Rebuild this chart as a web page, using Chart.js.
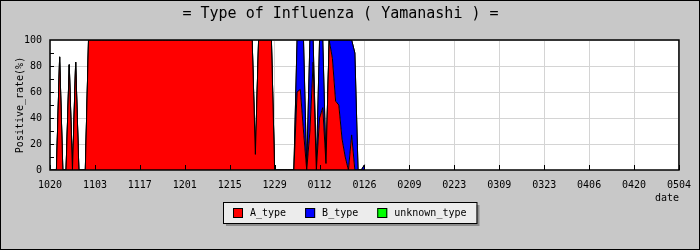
<!DOCTYPE html>
<html>
<head>
<meta charset="utf-8">
<script src="https://cdn.jsdelivr.net/npm/chart.js@4/dist/chart.umd.min.js"></script>
<style>
  html, body { margin: 0; padding: 0; background: #c8c8c8; }
  canvas { display: block; }
</style>
</head>
<body>
<canvas id="chart" width="700" height="250"></canvas>
<script>
// x axis: days since 10/20, one label every 14 days
const tickLabels = ["1020", "1103", "1117", "1201", "1215", "1229", "0112", "0126",
  "0209", "0223", "0309", "0323", "0406", "0420", "0504"];
const seriesNames = ["A_type", "B_type", "unknown_type"];
const seriesColors = ["#ff0000", "#0000ff", "#00ff00"];

// daily positive rate (%), index = day from 10/20 (rows of 14 days)
const aType = [
  0, 0, 0, 87, 0, 0, 81, 0, 83, 0, 0, 0, 100, 100,
  100, 100, 100, 100, 100, 100, 100, 100, 100, 100, 100, 100, 100, 100,
  100, 100, 100, 100, 100, 100, 100, 100, 100, 100, 100, 100, 100, 100,
  100, 100, 100, 100, 100, 100, 100, 100, 100, 100, 100, 100, 100, 100,
  100, 100, 100, 100, 100, 100, 100, 100, 12, 100, 100, 100, 100, 100,
  0, 0, 0, 0, 0, 0, 0, 60, 62, 30, 0, 30, 83, 0,
  40, 48, 5, 100, 86, 53, 50, 24, 10, 0, 27, 0, 0, 0,
  0
];
const bType = [
  0, 0, 0, 0, 0, 0, 0, 0, 0, 0, 0, 0, 0, 0,
  0, 0, 0, 0, 0, 0, 0, 0, 0, 0, 0, 0, 0, 0,
  0, 0, 0, 0, 0, 0, 0, 0, 0, 0, 0, 0, 0, 0,
  0, 0, 0, 0, 0, 0, 0, 0, 0, 0, 0, 0, 0, 0,
  0, 0, 0, 0, 0, 0, 0, 0, 0, 0, 0, 0, 0, 0,
  0, 0, 0, 0, 0, 0, 0, 40, 38, 70, 0, 70, 17, 0,
  60, 52, 0, 0, 14, 47, 50, 76, 90, 100, 73, 90, 0, 0,
  4
];
const unknownType = [
  0, 0, 0, 0, 0, 0, 0, 0, 0, 0, 0, 0, 0, 0,
  0, 0, 0, 0, 0, 0, 0, 0, 0, 0, 0, 0, 0, 0,
  0, 0, 0, 0, 0, 0, 0, 0, 0, 0, 0, 0, 0, 0,
  0, 0, 0, 0, 0, 0, 0, 0, 0, 0, 0, 0, 0, 0,
  0, 0, 0, 0, 0, 0, 0, 0, 0, 0, 0, 0, 0, 0,
  0, 0, 0, 0, 0, 0, 0, 0, 0, 0, 0, 0, 0, 0,
  0, 0, 0, 0, 0, 0, 0, 0, 0, 0, 0, 0, 0, 0,
  0
];

const MONO = "'DejaVu Sans Mono', monospace";

function toPoints(values) {
  return values.map((v, i) => ({x: i, y: v}));
}

// gray background, white plot area, frame and inner tick marks
const frame = {
  id: "frame",
  beforeDraw(chart) {
    const {ctx, chartArea: a} = chart;
    ctx.save();
    ctx.fillStyle = "#c8c8c8";
    ctx.fillRect(0, 0, chart.width, chart.height);
    ctx.strokeStyle = "#000";
    ctx.lineWidth = 1;
    ctx.strokeRect(0.5, 0.5, chart.width - 1, chart.height - 1);
    ctx.fillStyle = "#fff";
    ctx.fillRect(a.left, a.top, a.right - a.left, a.bottom - a.top);
    ctx.restore();
  },
  afterDatasetsDraw(chart) {
    const {ctx, chartArea: a, scales} = chart;
    ctx.save();
    ctx.strokeStyle = "#000";
    ctx.lineWidth = 1;
    ctx.beginPath();
    for (let v = 10; v < 100; v += 10) {
      const py = Math.round(scales.y.getPixelForValue(v)) + 0.5;
      ctx.moveTo(a.left, py);
      ctx.lineTo(a.left + 4, py);
    }
    scales.x.ticks.forEach((t) => {
      const px = Math.round(scales.x.getPixelForValue(t.value)) + 0.5;
      ctx.moveTo(px, a.bottom);
      ctx.lineTo(px, a.bottom - 5);
    });
    ctx.stroke();
    ctx.lineWidth = 1.5;
    ctx.strokeRect(a.left, a.top, a.right - a.left, a.bottom - a.top);
    ctx.restore();
  }
};

// boxed legend under the x axis
const boxLegend = {
  id: "boxLegend",
  afterDraw(chart) {
    const {ctx} = chart;
    ctx.save();
    ctx.font = "10px " + MONO;
    const pad = 10, sw = 10, gap = 7, between = 19;
    const names = chart.data.datasets.map((d) => d.label);
    const widths = names.map((n) => ctx.measureText(n).width);
    let total = pad * 2;
    widths.forEach((w, i) => { total += sw + gap + w + (i < widths.length - 1 ? between : 0); });
    const h = 21;
    const left = Math.round((chart.width - total) / 2);
    const top = 202;
    ctx.fillStyle = "#8c8c8c";
    ctx.fillRect(left + 3, top + 3, total, h);
    ctx.fillStyle = "#ececec";
    ctx.fillRect(left, top, total, h);
    ctx.strokeStyle = "#000";
    ctx.lineWidth = 1;
    ctx.strokeRect(left + 0.5, top + 0.5, total, h);
    let x = left + pad;
    const cy = top + h / 2 + 0.5;
    ctx.textBaseline = "middle";
    chart.data.datasets.forEach((d, i) => {
      ctx.fillStyle = d.backgroundColor;
      ctx.fillRect(x, cy - 5, sw, sw);
      ctx.strokeRect(x + 0.5, cy - 5 + 0.5, sw - 1, sw - 1);
      ctx.fillStyle = "#000";
      ctx.fillText(names[i], x + sw + gap, cy);
      x += sw + gap + widths[i] + between;
    });
    ctx.restore();
  }
};

const ctx = document.getElementById("chart").getContext("2d");
new Chart(ctx, {
  type: "line",
  data: {
    datasets: [
      {label: seriesNames[0], data: toPoints(aType), backgroundColor: seriesColors[0], fill: "origin"},
      {label: seriesNames[1], data: toPoints(bType), backgroundColor: seriesColors[1], fill: "-1"},
      {label: seriesNames[2], data: toPoints(unknownType), backgroundColor: seriesColors[2], fill: "-1"}
    ]
  },
  options: {
    responsive: false,
    animation: false,
    events: [],
    layout: {padding: {left: 0, right: 19, top: 0, bottom: 46}},
    elements: {
      line: {borderColor: "#000", borderWidth: 1, tension: 0},
      point: {radius: 0}
    },
    scales: {
      x: {
        type: "linear",
        min: 0,
        max: 196,
        afterFit: (s) => { s.height = 34; },
        border: {display: false},
        grid: {color: "#d4d4d4", drawTicks: false},
        ticks: {
          stepSize: 14,
          autoSkip: false,
          maxRotation: 0,
          padding: 9,
          color: "#000",
          font: {family: MONO, size: 10},
          callback: (v) => tickLabels[v / 14] ?? ""
        },
        title: {
          display: true,
          text: "date",
          align: "end",
          color: "#000",
          font: {family: MONO, size: 10},
          padding: {top: 0, bottom: 0}
        }
      },
      y: {
        stacked: true,
        min: 0,
        max: 100,
        afterFit: (s) => { s.width = 50; },
        border: {display: false},
        grid: {color: "#d4d4d4", drawTicks: false},
        ticks: {
          stepSize: 20,
          padding: 8,
          color: "#000",
          font: {family: MONO, size: 10}
        },
        title: {
          display: true,
          text: "Positive_rate(%)",
          color: "#000",
          font: {family: MONO, size: 10},
          padding: {top: 14, bottom: 0}
        }
      }
    },
    plugins: {
      legend: {display: false},
      tooltip: {enabled: false},
      title: {
        display: true,
        text: "= Type of Influenza ( Yamanashi ) =",
        color: "#000",
        font: {family: MONO, size: 15, weight: "normal"},
        padding: {top: 5, bottom: 17}
      }
    }
  },
  plugins: [frame, boxLegend]
});
</script>
</body>
</html>
